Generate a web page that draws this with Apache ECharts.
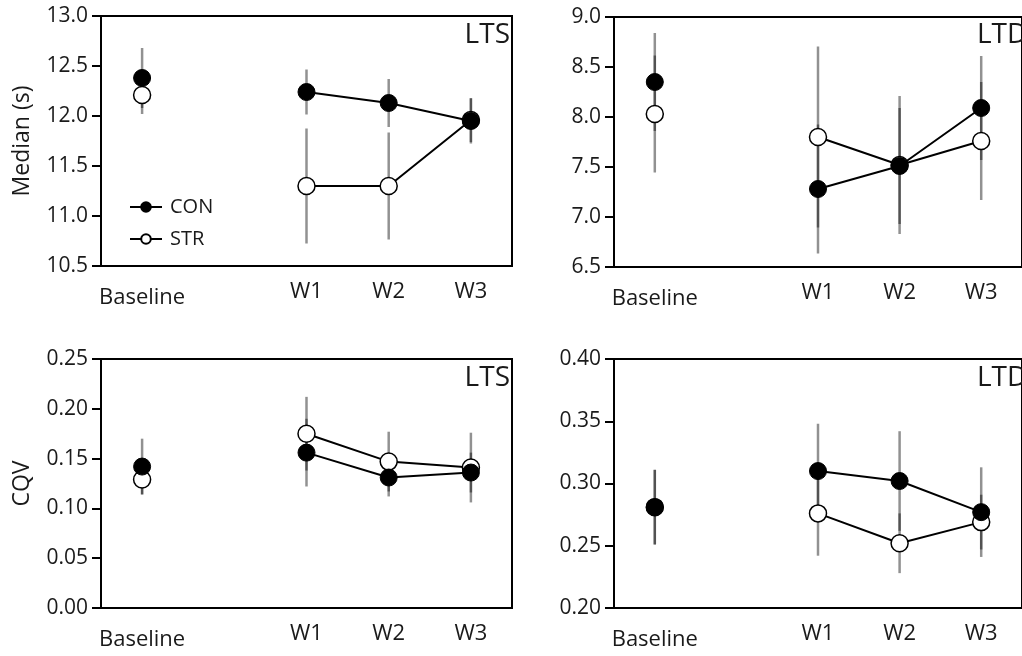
<!DOCTYPE html>
<html>
<head>
<meta charset="utf-8">
<title>Median and CQV</title>
<script src="https://cdn.jsdelivr.net/npm/echarts@6/dist/echarts.min.js"></script>
<style>
    html, body { margin: 0; padding: 0; background: #fff; }
    #chart { width: 1022px; height: 656px; }
</style>
</head>
<body>
<div id="chart"></div>
<script>
// x positions: Baseline, gap, W1, W2, W3
var categories = ['Baseline', '', 'W1', 'W2', 'W3'];

// Median (s) - LTS
var medLtsCon = [12.38, null, 12.24, 12.13, 11.95];
var medLtsConErr = [0.30, null, 0.225, 0.24, 0.225];
var medLtsStr = [12.21, null, 11.30, 11.30, 11.96];
var medLtsStrErr = [0.19, null, 0.575, 0.535, 0.22];

// Median (s) - LTD
var medLtdCon = [8.35, null, 7.28, 7.51, 8.09];
var medLtdConErr = [0.49, null, 0.645, 0.58, 0.52];
var medLtdStr = [8.03, null, 7.80, 7.52, 7.76];
var medLtdStrErr = [0.585, null, 0.905, 0.69, 0.59];

// CQV - LTS
var cqvLtsCon = [0.142, null, 0.156, 0.131, 0.136];
var cqvLtsConErr = [0.028, null, 0.034, 0.019, 0.020];
var cqvLtsStr = [0.129, null, 0.175, 0.147, 0.141];
var cqvLtsStrErr = [0.015, null, 0.037, 0.030, 0.035];

// CQV - LTD
var cqvLtdCon = [0.281, null, 0.310, 0.302, 0.277];
var cqvLtdConErr = [0.030, null, 0.038, 0.040, 0.036];
var cqvLtdStr = [0.281, null, 0.276, 0.252, 0.269];
var cqvLtdStrErr = [0.030, null, 0.034, 0.024, 0.022];

// y axis ranges: min, max, step
var medLtsTicks = [10.5, 13.0, 0.5];
var medLtdTicks = [6.5, 9.0, 0.5];
var cqvLtsTicks = [0.0, 0.25, 0.05];
var cqvLtdTicks = [0.20, 0.40, 0.05];

var FONT = 'Open Sans';
var TEXT = '#1a1a1a';

function makeXAxis(gridIndex) {
    return {
        type: 'category',
        gridIndex: gridIndex,
        data: categories,
        boundaryGap: true,
        axisLine: { show: true, onZero: false, lineStyle: { color: '#000', width: 2 } },
        axisTick: { show: false },
        splitLine: { show: false },
        axisLabel: {
            interval: 0,
            margin: 15,
            fontFamily: FONT,
            fontSize: 22,
            color: TEXT,
            formatter: function (v) {
                return v === 'Baseline' ? '{b|' + v + '}' : v;
            },
            rich: {
                b: { fontFamily: FONT, fontSize: 22, color: TEXT, padding: [6, 0, 0, 0] }
            }
        }
    };
}

function makeYAxis(gridIndex, ticks, digits, name) {
    return {
        type: 'value',
        gridIndex: gridIndex,
        min: ticks[0],
        max: ticks[1],
        interval: ticks[2],
        name: name || '',
        nameLocation: 'middle',
        nameGap: 67,
        nameTextStyle: { fontFamily: FONT, fontSize: 23, color: TEXT },
        axisLine: { show: true, onZero: false, lineStyle: { color: '#000', width: 2 } },
        axisTick: { show: true, length: 9, lineStyle: { color: '#000', width: 2 } },
        splitLine: { show: false },
        axisLabel: {
            margin: 13,
            fontFamily: FONT,
            fontSize: 21,
            color: TEXT,
            formatter: function (v) { return v.toFixed(digits); }
        }
    };
}

function errorBars(idx, means, errs) {
    var data = [];
    for (var i = 0; i < means.length; i++) {
        if (means[i] != null) data.push([i, means[i] - errs[i], means[i] + errs[i]]);
    }
    return {
        type: 'custom',
        xAxisIndex: idx,
        yAxisIndex: idx,
        silent: true,
        z: 1,
        encode: { x: 0, y: [1, 2] },
        data: data,
        renderItem: function (params, api) {
            var lo = api.coord([api.value(0), api.value(1)]);
            var hi = api.coord([api.value(0), api.value(2)]);
            return {
                type: 'line',
                shape: { x1: lo[0], y1: lo[1], x2: hi[0], y2: hi[1] },
                style: { stroke: 'rgba(0,0,0,0.43)', lineWidth: 2.5 }
            };
        }
    };
}

function lineSeries(idx, name, values) {
    var filled = name === 'CON';
    return {
        name: name,
        type: 'line',
        xAxisIndex: idx,
        yAxisIndex: idx,
        data: values,
        z: filled ? 4 : 3,
        symbol: 'circle',
        symbolSize: 17,
        connectNulls: false,
        lineStyle: { color: '#000', width: 2 },
        itemStyle: filled
            ? { color: '#000', borderColor: '#000', borderWidth: 1 }
            : { color: '#fff', borderColor: '#000', borderWidth: 1.5 },
        emphasis: { disabled: true }
    };
}

function panelTag(text, x, y, align) {
    return {
        type: 'text',
        silent: true,
        style: {
            x: x, y: y, text: text, align: align, verticalAlign: 'top',
            fontFamily: FONT, fontSize: 28, fill: TEXT
        }
    };
}

function LoadChart() {
    var chart = echarts.init(document.getElementById('chart'), null, { renderer: 'canvas' });

    var gridBase = { show: true, borderColor: '#000', borderWidth: 2, backgroundColor: 'transparent', containLabel: false };

    var option = {
        animation: false,
        backgroundColor: '#fff',
        grid: [
            Object.assign({ left: 101, top: 16, width: 411, height: 250 }, gridBase),
            Object.assign({ left: 614, top: 17, width: 414, height: 250 }, gridBase),
            Object.assign({ left: 101, top: 359, width: 411, height: 249 }, gridBase),
            Object.assign({ left: 614, top: 359, width: 414, height: 249 }, gridBase)
        ],
        legend: {
            data: ['CON', 'STR'],
            orient: 'vertical',
            left: 124,
            top: 192,
            itemWidth: 32,
            itemHeight: 12,
            itemGap: 12,
            selectedMode: false,
            textStyle: { fontFamily: FONT, fontSize: 20, color: TEXT, padding: [0, 0, 0, 3] }
        },
        xAxis: [makeXAxis(0), makeXAxis(1), makeXAxis(2), makeXAxis(3)],
        yAxis: [
            makeYAxis(0, medLtsTicks, 1, 'Median (s)'),
            makeYAxis(1, medLtdTicks, 1),
            makeYAxis(2, cqvLtsTicks, 2, 'CQV'),
            makeYAxis(3, cqvLtdTicks, 2)
        ],
        series: [
            errorBars(0, medLtsStr, medLtsStrErr),
            errorBars(0, medLtsCon, medLtsConErr),
            lineSeries(0, 'STR', medLtsStr),
            lineSeries(0, 'CON', medLtsCon),

            errorBars(1, medLtdStr, medLtdStrErr),
            errorBars(1, medLtdCon, medLtdConErr),
            lineSeries(1, 'STR', medLtdStr),
            lineSeries(1, 'CON', medLtdCon),

            errorBars(2, cqvLtsStr, cqvLtsStrErr),
            errorBars(2, cqvLtsCon, cqvLtsConErr),
            lineSeries(2, 'STR', cqvLtsStr),
            lineSeries(2, 'CON', cqvLtsCon),

            errorBars(3, cqvLtdStr, cqvLtdStrErr),
            errorBars(3, cqvLtdCon, cqvLtdConErr),
            lineSeries(3, 'STR', cqvLtdStr),
            lineSeries(3, 'CON', cqvLtdCon)
        ],
        graphic: [
            panelTag('LTS', 510, 21, 'right'),
            panelTag('LTD', 977, 21, 'left'),
            panelTag('LTS', 510, 364, 'right'),
            panelTag('LTD', 977, 364, 'left')
        ]
    };

    chart.setOption(option, true);
}

LoadChart();
</script>
</body>
</html>
